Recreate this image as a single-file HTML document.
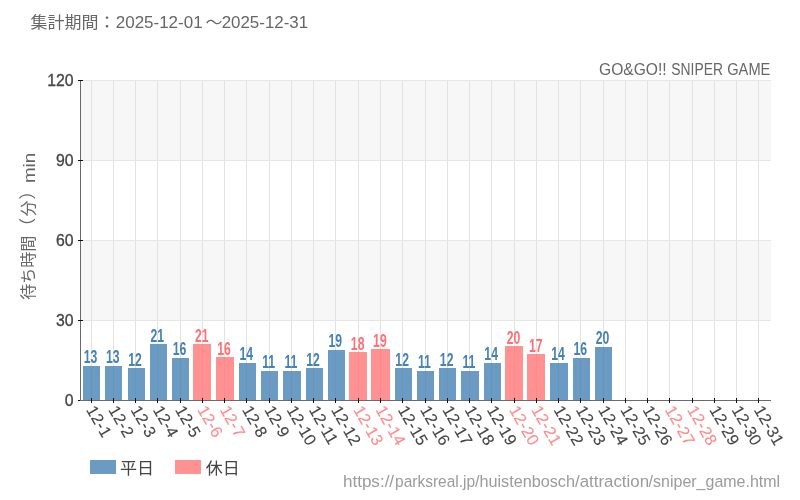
<!DOCTYPE html>
<html lang="ja">
<head>
<meta charset="utf-8">
<title>GO&amp;GO!! SNIPER GAME 待ち時間</title>
<style>
html,body{margin:0;padding:0;background:#fff;}
body{width:800px;height:500px;overflow:hidden;font-family:"Liberation Sans", "Noto Sans CJK JP", sans-serif;}
svg{display:block;}
</style>
</head>
<body>
<svg width="800" height="500" viewBox="0 0 800 500" font-family='"Liberation Sans", "Noto Sans CJK JP", sans-serif'>
<rect width="800" height="500" fill="#fff"/>
<g fill="#f7f7f7"><rect x="81" y="81" width="690" height="80"/><rect x="81" y="241" width="690" height="80"/></g>
<path d="M91.5 80V400M113.5 80V400M135.5 80V400M157.5 80V400M180.5 80V400M202.5 80V400M224.5 80V400M246.5 80V400M269.5 80V400M291.5 80V400M313.5 80V400M335.5 80V400M358.5 80V400M380.5 80V400M402.5 80V400M425.5 80V400M447.5 80V400M469.5 80V400M491.5 80V400M514.5 80V400M536.5 80V400M558.5 80V400M580.5 80V400M603.5 80V400M625.5 80V400M647.5 80V400M669.5 80V400M692.5 80V400M714.5 80V400M736.5 80V400M758.5 80V400" stroke="#e2e2e2" stroke-width="1" fill="none"/>
<path d="M80 80.5H771M80 160.5H771M80 240.5H771M80 320.5H771" stroke="#e6e6e6" stroke-width="1" fill="none"/>
<g>
<rect x="83" y="366" width="17" height="34" fill="rgba(70,130,180,0.8)"/>
<rect x="105" y="366" width="17" height="34" fill="rgba(70,130,180,0.8)"/>
<rect x="128" y="368" width="17" height="32" fill="rgba(70,130,180,0.8)"/>
<rect x="150" y="344" width="17" height="56" fill="rgba(70,130,180,0.8)"/>
<rect x="172" y="358" width="17" height="42" fill="rgba(70,130,180,0.8)"/>
<rect x="193" y="344" width="18" height="56" fill="rgba(255,108,110,0.745)"/>
<rect x="216" y="357" width="18" height="43" fill="rgba(255,108,110,0.745)"/>
<rect x="239" y="363" width="17" height="37" fill="rgba(70,130,180,0.8)"/>
<rect x="261" y="371" width="17" height="29" fill="rgba(70,130,180,0.8)"/>
<rect x="283" y="371" width="18" height="29" fill="rgba(70,130,180,0.8)"/>
<rect x="306" y="368" width="17" height="32" fill="rgba(70,130,180,0.8)"/>
<rect x="328" y="350" width="17" height="50" fill="rgba(70,130,180,0.8)"/>
<rect x="349" y="352" width="18" height="48" fill="rgba(255,108,110,0.745)"/>
<rect x="371" y="349" width="19" height="51" fill="rgba(255,108,110,0.745)"/>
<rect x="395" y="368" width="17" height="32" fill="rgba(70,130,180,0.8)"/>
<rect x="417" y="371" width="17" height="29" fill="rgba(70,130,180,0.8)"/>
<rect x="439" y="368" width="17" height="32" fill="rgba(70,130,180,0.8)"/>
<rect x="461" y="371" width="18" height="29" fill="rgba(70,130,180,0.8)"/>
<rect x="484" y="363" width="17" height="37" fill="rgba(70,130,180,0.8)"/>
<rect x="505" y="346" width="18" height="54" fill="rgba(255,108,110,0.745)"/>
<rect x="527" y="354" width="18" height="46" fill="rgba(255,108,110,0.745)"/>
<rect x="550" y="363" width="18" height="37" fill="rgba(70,130,180,0.8)"/>
<rect x="573" y="358" width="17" height="42" fill="rgba(70,130,180,0.8)"/>
<rect x="595" y="347" width="17" height="53" fill="rgba(70,130,180,0.8)"/>
</g>
<path d="M80.5 81V401" stroke="#6a6a6a" stroke-width="1" fill="none"/>
<path d="M78 80.5H83M78 160.5H83M78 240.5H83M78 320.5H83M78 400.5H83" stroke="#111" stroke-width="1" fill="none"/>
<path d="M80 400.5H771" stroke="#6a6a6a" stroke-width="1" fill="none"/>
<path d="M91.5 398V403M113.5 398V403M135.5 398V403M157.5 398V403M180.5 398V403M202.5 398V403M224.5 398V403M246.5 398V403M269.5 398V403M291.5 398V403M313.5 398V403M335.5 398V403M358.5 398V403M380.5 398V403M402.5 398V403M425.5 398V403M447.5 398V403M469.5 398V403M491.5 398V403M514.5 398V403M536.5 398V403M558.5 398V403M580.5 398V403M603.5 398V403M625.5 398V403M647.5 398V403M669.5 398V403M692.5 398V403M714.5 398V403M736.5 398V403M758.5 398V403" stroke="#111" stroke-width="1" fill="none"/>
<g font-size="15.8" fill="#444" stroke="#444" stroke-width="0.3" text-anchor="end">
<text x="73.6" y="405.8">0</text>
<text x="73.6" y="325.8">30</text>
<text x="73.6" y="245.8">60</text>
<text x="73.6" y="165.8">90</text>
<text x="73.6" y="85.8">120</text>
</g>
<g font-size="18" font-weight="bold" text-anchor="middle">
<text transform="translate(90.53 363.03) scale(0.68 1)" fill="#4682b4">13</text>
<text transform="translate(112.79 363.03) scale(0.68 1)" fill="#4682b4">13</text>
<text transform="translate(135.05 365.7) scale(0.68 1)" fill="#4682b4">12</text>
<text transform="translate(157.3 341.7) scale(0.68 1)" fill="#4682b4">21</text>
<text transform="translate(179.56 355.03) scale(0.68 1)" fill="#4682b4">16</text>
<text transform="translate(201.82 341.7) scale(0.68 1)" fill="#ff7075">21</text>
<text transform="translate(224.08 355.03) scale(0.68 1)" fill="#ff7075">16</text>
<text transform="translate(246.34 360.37) scale(0.68 1)" fill="#4682b4">14</text>
<text transform="translate(268.59 368.37) scale(0.68 1)" fill="#4682b4">11</text>
<text transform="translate(290.85 368.37) scale(0.68 1)" fill="#4682b4">11</text>
<text transform="translate(313.11 365.7) scale(0.68 1)" fill="#4682b4">12</text>
<text transform="translate(335.37 347.03) scale(0.68 1)" fill="#4682b4">19</text>
<text transform="translate(357.63 349.7) scale(0.68 1)" fill="#ff7075">18</text>
<text transform="translate(379.88 347.03) scale(0.68 1)" fill="#ff7075">19</text>
<text transform="translate(402.14 365.7) scale(0.68 1)" fill="#4682b4">12</text>
<text transform="translate(424.4 368.37) scale(0.68 1)" fill="#4682b4">11</text>
<text transform="translate(446.66 365.7) scale(0.68 1)" fill="#4682b4">12</text>
<text transform="translate(468.92 368.37) scale(0.68 1)" fill="#4682b4">11</text>
<text transform="translate(491.17 360.37) scale(0.68 1)" fill="#4682b4">14</text>
<text transform="translate(513.43 344.37) scale(0.68 1)" fill="#ff7075">20</text>
<text transform="translate(535.69 352.37) scale(0.68 1)" fill="#ff7075">17</text>
<text transform="translate(557.95 360.37) scale(0.68 1)" fill="#4682b4">14</text>
<text transform="translate(580.21 355.03) scale(0.68 1)" fill="#4682b4">16</text>
<text transform="translate(602.46 344.37) scale(0.68 1)" fill="#4682b4">20</text>
</g>
<g font-size="16.4" stroke-width="0.12" letter-spacing="0.15">
<text transform="translate(85.83 409.8) rotate(60)" fill="#444" stroke="#444">12-1</text>
<text transform="translate(108.09 409.8) rotate(60)" fill="#444" stroke="#444">12-2</text>
<text transform="translate(130.35 409.8) rotate(60)" fill="#444" stroke="#444">12-3</text>
<text transform="translate(152.6 409.8) rotate(60)" fill="#444" stroke="#444">12-4</text>
<text transform="translate(174.86 409.8) rotate(60)" fill="#444" stroke="#444">12-5</text>
<text transform="translate(197.12 409.8) rotate(60)" fill="#ff8a8d" stroke="#ff8a8d">12-6</text>
<text transform="translate(219.38 409.8) rotate(60)" fill="#ff8a8d" stroke="#ff8a8d">12-7</text>
<text transform="translate(241.64 409.8) rotate(60)" fill="#444" stroke="#444">12-8</text>
<text transform="translate(263.89 409.8) rotate(60)" fill="#444" stroke="#444">12-9</text>
<text transform="translate(286.15 409.8) rotate(60)" fill="#444" stroke="#444">12-10</text>
<text transform="translate(308.41 409.8) rotate(60)" fill="#444" stroke="#444">12-11</text>
<text transform="translate(330.67 409.8) rotate(60)" fill="#444" stroke="#444">12-12</text>
<text transform="translate(352.93 409.8) rotate(60)" fill="#ff8a8d" stroke="#ff8a8d">12-13</text>
<text transform="translate(375.18 409.8) rotate(60)" fill="#ff8a8d" stroke="#ff8a8d">12-14</text>
<text transform="translate(397.44 409.8) rotate(60)" fill="#444" stroke="#444">12-15</text>
<text transform="translate(419.7 409.8) rotate(60)" fill="#444" stroke="#444">12-16</text>
<text transform="translate(441.96 409.8) rotate(60)" fill="#444" stroke="#444">12-17</text>
<text transform="translate(464.22 409.8) rotate(60)" fill="#444" stroke="#444">12-18</text>
<text transform="translate(486.47 409.8) rotate(60)" fill="#444" stroke="#444">12-19</text>
<text transform="translate(508.73 409.8) rotate(60)" fill="#ff8a8d" stroke="#ff8a8d">12-20</text>
<text transform="translate(530.99 409.8) rotate(60)" fill="#ff8a8d" stroke="#ff8a8d">12-21</text>
<text transform="translate(553.25 409.8) rotate(60)" fill="#444" stroke="#444">12-22</text>
<text transform="translate(575.51 409.8) rotate(60)" fill="#444" stroke="#444">12-23</text>
<text transform="translate(597.76 409.8) rotate(60)" fill="#444" stroke="#444">12-24</text>
<text transform="translate(620.02 409.8) rotate(60)" fill="#444" stroke="#444">12-25</text>
<text transform="translate(642.28 409.8) rotate(60)" fill="#444" stroke="#444">12-26</text>
<text transform="translate(664.54 409.8) rotate(60)" fill="#ff8a8d" stroke="#ff8a8d">12-27</text>
<text transform="translate(686.8 409.8) rotate(60)" fill="#ff8a8d" stroke="#ff8a8d">12-28</text>
<text transform="translate(709.05 409.8) rotate(60)" fill="#444" stroke="#444">12-29</text>
<text transform="translate(731.31 409.8) rotate(60)" fill="#444" stroke="#444">12-30</text>
<text transform="translate(753.57 409.8) rotate(60)" fill="#444" stroke="#444">12-31</text>
</g>
<text transform="translate(0 28.5) scale(1 0.95)" y="-0.3" font-size="17" fill="#666"><tspan x="30.5">集計期間：</tspan><tspan x="115.75" textLength="86.87" lengthAdjust="spacingAndGlyphs">2025-12-01</tspan><tspan x="205.5">～</tspan><tspan x="221.65" textLength="86.56" lengthAdjust="spacingAndGlyphs">2025-12-31</tspan></text>
<text y="75.0" font-size="15.6" fill="#666"><tspan x="599" textLength="67.59" lengthAdjust="spacingAndGlyphs">GO&amp;GO!!</tspan> <tspan x="671.23" textLength="51.74" lengthAdjust="spacingAndGlyphs">SNIPER</tspan> <tspan x="727.19" textLength="43.19" lengthAdjust="spacingAndGlyphs">GAME</tspan></text>
<text transform="translate(34 0) rotate(-90)" font-size="16" fill="#666"><tspan x="-299.7">待ち時間</tspan><tspan x="-235" font-size="17">（</tspan><tspan x="-216.4">分</tspan><tspan x="-199.4" font-size="17">）</tspan><tspan x="-183.11" dy="1" font-size="17" textLength="30.39" lengthAdjust="spacingAndGlyphs">min</tspan></text>
<rect x="90" y="460" width="26" height="14" fill="rgba(70,130,180,0.8)"/>
<rect x="175" y="460" width="26" height="14" fill="rgba(255,108,110,0.745)"/>
<g font-size="17" fill="#444" transform="translate(0 473.5) scale(1 0.95)"><text x="120" y="0">平日</text><text x="205.8" y="0">休日</text></g>
<text y="486.9" font-size="16.3" fill="#9b9b9b"><tspan x="342.95" textLength="51.18" lengthAdjust="spacingAndGlyphs">https://</tspan><tspan x="395.05" textLength="79.99" lengthAdjust="spacingAndGlyphs">parksreal.jp</tspan><tspan x="475" textLength="99.98" lengthAdjust="spacingAndGlyphs">/huistenbosch</tspan><tspan x="575" textLength="74.04" lengthAdjust="spacingAndGlyphs">/attraction</tspan><tspan x="648.6" textLength="131.57" lengthAdjust="spacingAndGlyphs">/sniper_game.html</tspan></text>
</svg>
</body>
</html>
